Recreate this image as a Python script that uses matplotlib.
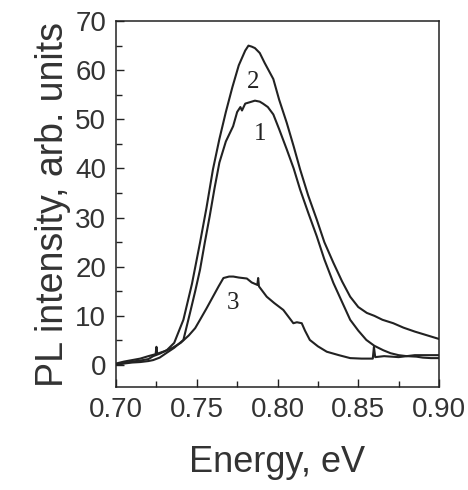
import matplotlib
matplotlib.use("Agg")
import matplotlib.pyplot as plt
from matplotlib.ticker import MultipleLocator

# Curve 1
x1 = [0.700, 0.705, 0.710, 0.715, 0.720, 0.723, 0.727, 0.731, 0.736, 0.7417, 0.7458, 0.749, 0.752,
      0.755, 0.758, 0.761, 0.764, 0.768, 0.7725, 0.775, 0.777, 0.778, 0.780, 0.783, 0.786, 0.789,
      0.791, 0.794, 0.7974, 0.801, 0.8057, 0.810, 0.814, 0.819, 0.8243, 0.829, 0.8346, 0.840,
      0.845, 0.850, 0.855, 0.860, 0.8655, 0.870, 0.875, 0.880, 0.886, 0.890, 0.895, 0.900]
y1 = [0.0, 0.3, 0.5, 0.6, 0.8, 1.0, 1.5, 2.4, 3.5, 5.1, 10.6, 15.0, 19.4,
      25.0, 30.3, 36.0, 41.2, 45.5, 48.6, 51.5, 52.5, 51.8, 53.2, 53.5, 53.8, 53.6,
      53.2, 52.5, 51.0, 48.0, 43.9, 40.0, 35.7, 31.0, 26.2, 21.5, 16.7, 12.8,
      9.2, 7.0, 5.1, 3.9, 3.0, 2.4, 2.0, 1.8, 1.7, 1.5, 1.4, 1.4]

# Curve 2
x2 = [0.700, 0.705, 0.710, 0.715, 0.720, 0.723, 0.727, 0.7314, 0.736, 0.7417, 0.747, 0.752,
      0.756, 0.760, 0.764, 0.768, 0.772, 0.776, 0.780, 0.782, 0.784, 0.786, 0.789, 0.792,
      0.7974, 0.801, 0.8057, 0.810, 0.814, 0.819, 0.8243, 0.829, 0.8346, 0.840, 0.845, 0.850,
      0.8553, 0.860, 0.865, 0.8717, 0.878, 0.885, 0.892, 0.900]
y2 = [0.0, 0.4, 0.7, 0.9, 1.2, 1.8, 2.3, 3.0, 4.5, 9.2, 16.5, 24.9,
      32.0, 39.8, 46.0, 51.5, 56.5, 61.0, 64.0, 65.0, 64.8, 64.5, 63.5, 61.5,
      58.2, 54.0, 49.3, 44.5, 39.8, 34.5, 29.6, 25.0, 20.8, 17.0, 13.9, 11.8,
      10.6, 10.0, 9.2, 8.5, 7.6, 6.8, 6.1, 5.3]

# Curve 3
x3 = [0.700, 0.705, 0.710, 0.715, 0.720, 0.7245, 0.7250, 0.7255, 0.730, 0.735, 0.740, 0.745,
      0.749, 0.752, 0.756, 0.760, 0.7635, 0.7665, 0.770, 0.7726, 0.776, 0.781, 0.784, 0.7875,
      0.7880, 0.7885, 0.7933, 0.798, 0.8036, 0.8098, 0.812, 0.8150, 0.817, 0.820, 0.825,
      0.8305, 0.838, 0.845, 0.852, 0.8590, 0.8597, 0.8605, 0.866, 0.875, 0.885, 0.892, 0.900]
y3 = [0.3, 0.7, 1.0, 1.3, 1.8, 2.2, 3.7, 2.3, 2.8, 3.5, 4.5, 6.0,
      7.5, 9.2, 11.5, 13.9, 16.0, 17.7, 18.0, 18.0, 17.8, 17.6, 16.8, 16.3,
      17.7, 16.0, 13.9, 12.6, 11.2, 8.5, 8.7, 8.5, 7.0, 5.1, 3.8,
      2.7, 2.0, 1.4, 1.3, 1.3, 3.7, 1.6, 1.8, 1.6, 2.0, 2.0, 2.0]

labels = ["1", "2", "3"]
label_pos = [(0.789, 47.0), (0.785, 57.5), (0.7725, 12.6)]

xticks = [0.70, 0.75, 0.80, 0.85, 0.90]
yticks = [0, 10, 20, 30, 40, 50, 60, 70]

plt.rcParams['font.family'] = ['Liberation Sans', 'DejaVu Sans']

fig = plt.figure(figsize=(4.68, 4.90), dpi=100)
ax = fig.add_axes([0.248, 0.210, 0.690, 0.747])

lc = '#222222'
for xs, ys in [(x1, y1), (x2, y2), (x3, y3)]:
    ax.plot(xs, ys, color=lc, lw=1.5)

for lab, (lx, ly) in zip(labels, label_pos):
    ax.text(lx, ly, lab, family=['Liberation Serif', 'DejaVu Serif'], fontsize=18,
            ha='center', va='center', color=lc)

ax.set_xlim(0.70, 0.90)
ax.set_ylim(-4.5, 70)
ax.set_xticks(xticks)
ax.set_xticklabels([f"{v:.2f}" for v in xticks])
ax.set_yticks(yticks)
ax.xaxis.set_minor_locator(MultipleLocator(0.025))
ax.yaxis.set_minor_locator(MultipleLocator(5))
ax.tick_params(which='both', direction='in', labelsize=20, color=lc, labelcolor='#333333')
ax.tick_params(which='major', length=6, width=1)
ax.tick_params(which='minor', length=4, width=1)
ax.tick_params(axis='x', pad=7)
ax.tick_params(axis='y', pad=7)
for s in ax.spines.values():
    s.set_color(lc)
    s.set_linewidth(1.1)

ax.set_xlabel("Energy, eV", fontsize=26, color='#333333', labelpad=16)
ax.set_ylabel("PL intensity, arb. units", fontsize=27, color='#333333', labelpad=3)

fig.savefig("out.png", dpi=100, facecolor='white')
